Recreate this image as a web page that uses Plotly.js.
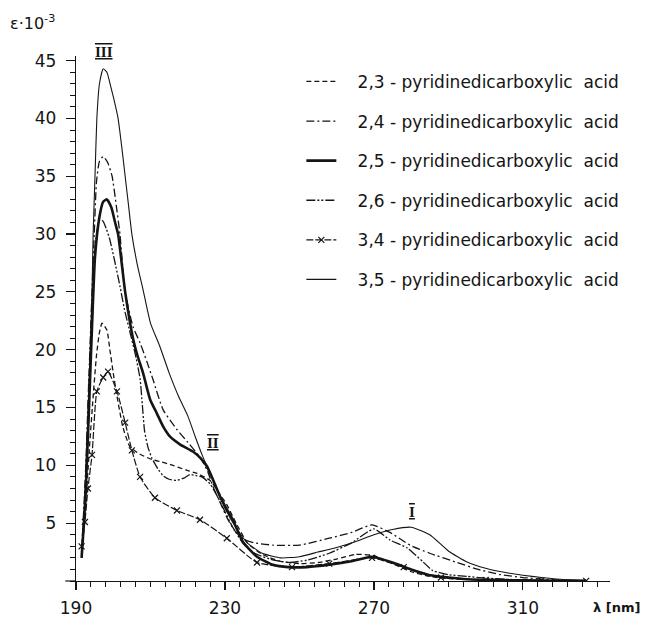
<!DOCTYPE html>
<html>
<head>
<meta charset="utf-8">
<script src="https://cdn.plot.ly/plotly-3.0.1.min.js"></script>
<style>html,body{margin:0;padding:0;background:#fff;}#chart{width:645px;height:619px;}</style>
</head>
<body>
<div id="chart"></div>
<script>
// Wavelength (nm) and epsilon·10^-3 values
const wl23 = [191.5,192.5,193.5,194.5,195.5,196.3,197,198.3,199.1,200,201,202.6,204.5,207,210.4,213,216,219.5,222.5,226,228,230.5,233,236,240,245,250,255,260,265,270,275,280,285,290,300,310,320,327];
const eps23 = [2,6,11,15.5,19.5,21.5,22.3,21.7,20,18,16,13.3,11.6,11.0,10.5,10.3,10.0,9.6,9.3,8.7,7.8,6.6,5.0,3.3,2.3,1.7,1.5,1.6,1.9,2.3,2.2,1.5,0.8,0.4,0.2,0.1,0.05,0.02,0.01];

const wl24 = [191.5,192.5,193.5,194.3,194.9,195.5,196.3,197.3,198.5,199.7,200.8,201.8,203.2,205.3,207.2,209,210.7,213.4,217.1,220,223.3,225.2,227,228.7,230.5,232.5,235,238,243,250,258,264,269.5,274.3,279.7,285,292.3,298,304,310,316,322,327];
const eps24 = [2.5,9,18,25,30,34.5,36.3,36.7,36.2,35,32.5,30,25,22,20.6,19,17.4,14.8,13.1,12.0,10.7,9.6,8.0,6.8,5.5,4.4,3.6,3.3,3.1,3.1,3.7,4.2,4.85,4.2,3.1,2.4,1.6,1.0,0.55,0.3,0.15,0.05,0.02];

const wl25 = [191.5,192.5,193.5,194.3,195.1,196.3,197.3,198.3,199.5,200.5,201.3,203.2,205.3,206.5,208,209.9,211.7,213.5,215.2,218,221.4,223.5,225.2,227,228.7,230.5,232.1,234.8,238.6,242.9,247,252,258,264,269.5,275,280,285,290,295,300,310,320,327];
const eps25 = [2,7,15,22,28,31.5,32.8,33,32.3,31,30,25,21,19.5,18,15.7,14.5,13.3,12.5,11.8,11.2,10.6,9.9,8.6,7.3,6.2,5.3,3.4,2.1,1.4,1.2,1.2,1.4,1.7,2.1,1.6,1.0,0.5,0.3,0.15,0.1,0.05,0.02,0.01];

const wl26 = [191.5,192.5,193.5,194.5,195.3,196.4,197.3,198.2,199.1,200.5,201.8,203,204.5,206,207.2,207.8,208.4,209.3,210.4,212,213.4,215,217.1,219,220.6,222.5,223.8,226,228,230,232,235,238,242,247,252,258,264,270,274.3,279,283.2,285.8,290,295,300,310,320,327];
const eps26 = [2,8,17,25,29.5,31.3,31.1,30.4,29.5,27.5,25.5,23.5,21.5,19.5,17.5,15.3,13,11.6,10.6,9.7,9.1,8.8,8.7,8.9,9.2,9.1,9.0,8.4,7.3,6.0,4.7,3.2,2.4,1.9,1.6,1.8,2.4,3.3,4.5,3.55,2.85,1.65,0.9,0.55,0.4,0.25,0.08,0.03,0.01];

const wl34 = [191.5,192.4,193.2,194.3,195.6,197.3,198.6,201,203.2,205,207.2,211.2,217.1,223.3,230.5,238.6,248,258,269.5,278,288,300,315,327];
const eps34 = [3,5.1,8,10.9,16.4,17.6,18.1,16.4,13.7,11.3,9.0,7.2,6.1,5.3,3.7,1.6,1.2,1.5,2.0,1.2,0.3,0.1,0.03,0.01];

const wl35 = [191.5,192.5,193.5,194.3,194.6,195.1,195.6,196.3,197.3,198.3,199.3,200.3,201.3,202.3,203.2,204.1,205,206.5,208,210,212.5,215,217.5,220,222,224,226,228,230,233,236,240,245,250,255,260,265,270,275,280,285,290,295,300,305,310,315,320,327];
const eps35 = [2,8,17,25,30,35,40,43,44.3,44,42.8,41.5,40,37.5,35,32.5,30,27.3,25.2,22.3,20.3,18,16,14.3,12.5,10.8,9.3,7.8,6.3,4.6,3.3,2.4,2.0,2.1,2.5,2.9,3.4,4.0,4.45,4.65,4.0,2.6,1.65,1.1,0.75,0.5,0.3,0.15,0.05];

const pad = '\u00a0\u00a0\u00a0';
const seriesNames = [
  pad + "2,3 - pyridinedicarboxylic\u00a0\u00a0acid",
  pad + "2,4 - pyridinedicarboxylic\u00a0\u00a0acid",
  pad + "2,5 - pyridinedicarboxylic\u00a0\u00a0acid",
  pad + "2,6 - pyridinedicarboxylic\u00a0\u00a0acid",
  pad + "3,4 - pyridinedicarboxylic\u00a0\u00a0acid",
  pad + "3,5 - pyridinedicarboxylic\u00a0\u00a0acid"
];
const xTickVals = [190, 230, 270, 310];
const yTickVals = [5, 10, 15, 20, 25, 30, 35, 40, 45];
const bandLabels = ["III", "II", "I"];
const bandX = [197.5, 226.8, 280.2];
const bandY = [45.9, 11.9, 6.0];

const ink = '#151515';
function tr(x, y, name, i, line, extra) {
  return Object.assign({
    x: x, y: y, name: name, type: 'scatter', mode: 'lines',
    legendgroup: 'g' + i,
    line: Object.assign({color: ink, shape: 'spline', smoothing: 0.5}, line),
    hoverinfo: 'skip'
  }, extra || {});
}
const data = [
  tr(wl23, eps23, seriesNames[0], 0, {width: 1.3, dash: '5px,3px'}),
  tr(wl24, eps24, seriesNames[1], 1, {width: 1.3, dash: '8px,3px,2px,3px'}),
  tr(wl25, eps25, seriesNames[2], 2, {width: 2.6}),
  tr(wl26, eps26, seriesNames[3], 3, {width: 1.3, dash: '9px,2px,2px,2px,2px,2px'}),
  tr(wl34, eps34, seriesNames[4], 4, {width: 1.2, dash: '7px,2px'},
     {mode: 'lines+markers', marker: {symbol: 'x-thin-open', size: 6, color: ink, line: {width: 1.2, color: ink}}}),
  tr(wl35, eps35, seriesNames[5], 5, {width: 1.1})
];

const bandFont = {family: 'Liberation Serif, DejaVu Serif, serif', size: 15, color: ink, weight: 'bold'};
const annotations = bandLabels.map((t, i) => {
  const a = {
    x: bandX[i], xref: 'x',
    text: '<span style="text-decoration:overline underline">' + t + '</span>',
    showarrow: false, font: bandFont
  };
  if (i === 0) { a.yref = 'paper'; a.y = 1.008; a.yanchor = 'middle'; }
  else { a.yref = 'y'; a.y = bandY[i]; }
  return a;
});
annotations.push({
  xref: 'paper', yref: 'paper', x: -0.128, y: 1.063, xanchor: 'left', yanchor: 'middle',
  text: 'ε·10<sup>-3</sup>', showarrow: false,
  font: {family: 'DejaVu Sans, sans-serif', size: 16, color: ink}
});
annotations.push({
  xref: 'paper', yref: 'paper', x: 1.06, y: -0.05, xanchor: 'right', yanchor: 'middle',
  text: '<b>λ [nm]</b>', showarrow: false,
  font: {family: 'DejaVu Sans, sans-serif', size: 13, color: ink}
});

const layout = {
  width: 645, height: 619,
  margin: {l: 76, r: 35, t: 56, b: 38},
  paper_bgcolor: '#fff', plot_bgcolor: '#fff',
  showlegend: true,
  legend: {
    x: 0.422, y: 0.985, xanchor: 'left', yanchor: 'top',
    bgcolor: 'rgba(0,0,0,0)', tracegroupgap: 14.5,
    font: {family: 'DejaVu Sans, sans-serif', size: 17, color: ink}
  },
  xaxis: {
    range: [190, 333.4], tickmode: 'array', tickvals: xTickVals,
    showline: true, linecolor: ink, linewidth: 1.2,
    ticks: 'outside', ticklen: 8, tickwidth: 1.2, tickcolor: ink,
    ticklabelstandoff: 3,
    showgrid: false, zeroline: false,
    minor: {tickmode: 'linear', tick0: 190, dtick: 4, ticks: 'outside', ticklen: 5, tickwidth: 1, tickcolor: ink, showgrid: false},
    tickfont: {family: 'DejaVu Sans, sans-serif', size: 17, color: ink}
  },
  yaxis: {
    range: [0, 45.4], tickmode: 'array', tickvals: yTickVals,
    showline: true, linecolor: ink, linewidth: 1.2,
    ticks: 'outside', ticklen: 9, tickwidth: 1.2, tickcolor: ink,
    ticklabelstandoff: 6,
    showgrid: false, zeroline: false,
    minor: {tickmode: 'linear', tick0: 0, dtick: 1, ticks: 'outside', ticklen: 5, tickwidth: 1, tickcolor: ink, showgrid: false},
    tickfont: {family: 'DejaVu Sans, sans-serif', size: 17, color: ink}
  },
  shapes: [
    {type: 'line', xref: 'paper', yref: 'paper', x0: -0.02, x1: 0, y0: 0, y1: 0, line: {color: ink, width: 1.2}}
  ],
  annotations: annotations
};

Plotly.newPlot('chart', data, layout, {displayModeBar: false, staticPlot: true});
</script>
</body>
</html>
